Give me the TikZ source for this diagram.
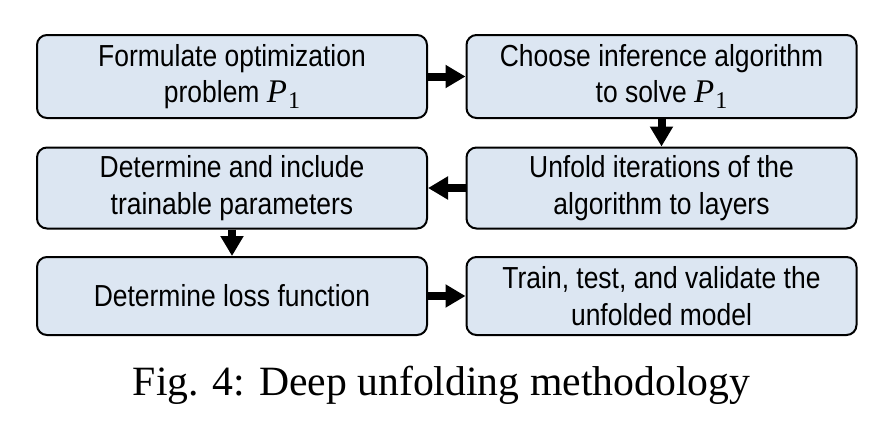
\documentclass[tikz,border=0pt]{standalone}
\usepackage{fontspec}
\setmainfont{Liberation Serif}
\newfontfamily\boxfont[FakeStretch=0.87]{Liberation Sans}
\newfontfamily\pfont{Liberation Serif}
\usetikzlibrary{arrows.meta}
\definecolor{boxfill}{HTML}{DCE6F2}
\newcommand{\pone}{{\pfont\fontsize{33}{36.5}\selectfont\itshape P\kern1pt\raisebox{-6pt}{\fontsize{24}{26}\selectfont\upshape 1}}}
\tikzset{
  stepbox/.style={draw=black, line width=2pt, fill=boxfill, rounded corners=10pt,
    minimum width=390pt, inner sep=0pt, align=center,
    font=\boxfont\fontsize{30.4}{36.5}\selectfont},
  flow/.style={line width=8pt, -{Triangle[width=22pt,length=20pt]}}
}
\begin{document}
\begin{tikzpicture}[x=1pt,y=-1pt]
\useasboundingbox (0,0) rectangle (880,426);
\node[stepbox, minimum height=83pt] (a) at (232,76.5) {Formulate optimization\\problem \pone};
\node[stepbox, minimum height=83pt] (b) at (661.5,76.5) {Choose inference algorithm\\to solve \pone};
\node[stepbox, minimum height=81pt] (c) at (661.5,188) {Unfold iterations of the\\algorithm to layers};
\node[stepbox, minimum height=81pt] (d) at (232,188) {Determine and include\\trainable parameters};
\node[stepbox, minimum height=78pt] (e) at (232,296) {Determine loss function};
\node[stepbox, minimum height=78pt] (f) at (661.5,296) {Train, test, and validate the\\unfolded model};
\draw[flow] (a.east) -- (b.west);
\draw[flow] (b.south) -- (c.north);
\draw[flow] (c.west) -- (d.east);
\draw[flow] (d.south) -- (e.north);
\draw[flow] (e.east) -- (f.west);
\node[font=\fontsize{41.7}{48}\selectfont, anchor=base, inner sep=0pt] (cap) at (441.5,395) {Fig. 4: Deep unfolding methodology};
\end{tikzpicture}
\end{document}
